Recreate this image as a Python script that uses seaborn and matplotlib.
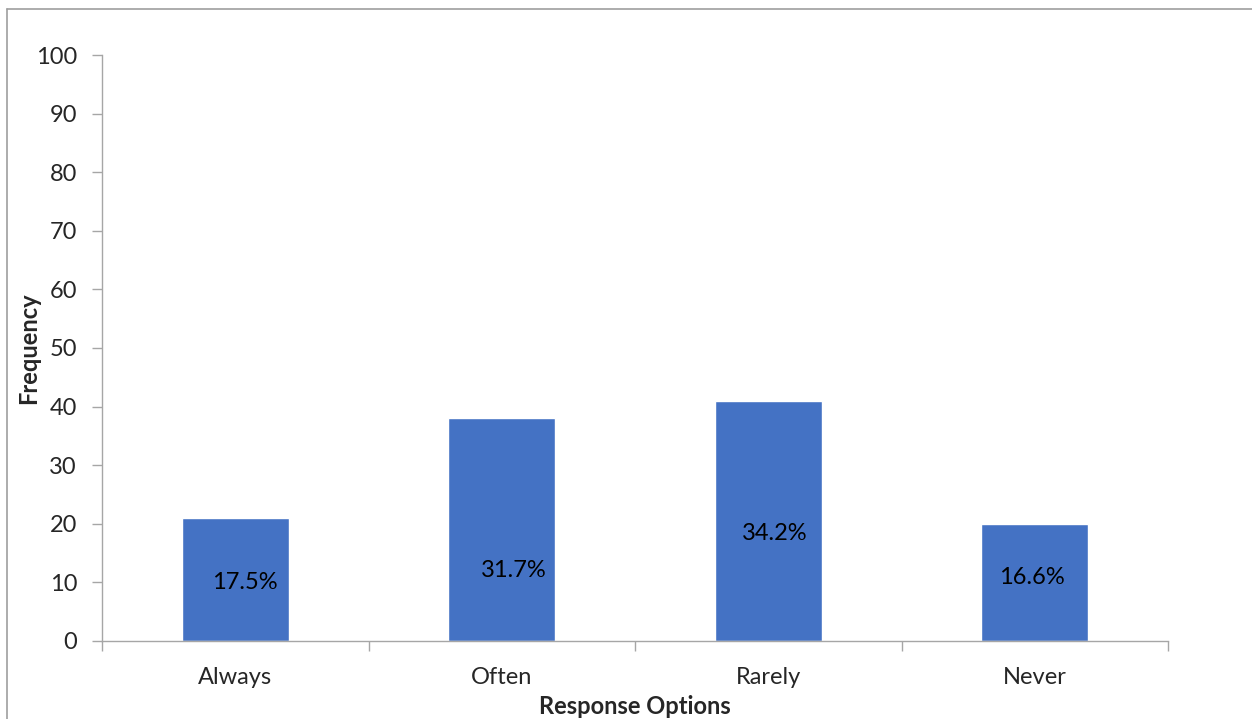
import matplotlib
matplotlib.use("Agg")
import matplotlib.pyplot as plt
from matplotlib.lines import Line2D
import seaborn as sns
import pandas as pd

# Survey responses
categories = ["Always", "Often", "Rarely", "Never"]
frequency = [21, 38, 41, 20]
percent_labels = ["17.5%", "31.7%", "34.2%", "16.6%"]
# where each percentage label sits inside its bar (x offset in category units, y in data units)
label_dx = [0.034, 0.045, 0.023, -0.011]
label_y = [9.9, 12.1, 18.4, 10.9]

sns.set_theme(style="white")
plt.rcParams["font.family"] = ["Lato", "DejaVu Sans"]

df = pd.DataFrame({"Response Options": categories, "Frequency": frequency})

fig = plt.figure(figsize=(12.52, 7.19), dpi=100)
ax = fig.add_axes([0.0815, 0.1085, 0.8514, 0.815])

sns.barplot(data=df, x="Response Options", y="Frequency", color="#4472C4",
            saturation=1, width=0.4, ax=ax)

for i, (lab, dx, y) in enumerate(zip(percent_labels, label_dx, label_y)):
    ax.text(i + dx, y, lab, ha="center", va="center", fontsize=17, color="black")

grey = "#A6A6A6"
ax.set_ylim(0, 100)
ax.set_xlim(-0.5, len(categories) - 0.5)
ax.set_yticks(range(0, 101, 10))
ax.tick_params(axis="y", which="major", length=7, width=1, color=grey,
               labelsize=17, pad=11, left=True, direction="out")
ax.tick_params(axis="x", length=0, labelsize=17, pad=19)
# boundary ticks between categories on the x axis
ax.set_xticks([i - 0.5 for i in range(len(categories) + 1)], minor=True)
ax.tick_params(axis="x", which="minor", length=7, width=1, color=grey,
               bottom=True, direction="out")

for side in ["top", "right"]:
    ax.spines[side].set_visible(False)
for side in ["left", "bottom"]:
    ax.spines[side].set_color(grey)
    ax.spines[side].set_linewidth(1)

ax.set_xlabel("Response Options", fontsize=17, fontweight="bold")
ax.set_ylabel("Frequency", fontsize=17, fontweight="bold")
ax.xaxis.set_label_coords(0.5, -0.092)
ax.yaxis.set_label_coords(-0.058, 0.5)

# chart area frame (top and left edges)
fig.add_artist(Line2D([7 / 1252, 1.0], [1 - 9 / 719, 1 - 9 / 719],
                      transform=fig.transFigure, color="#9E9E9E", lw=1.2))
fig.add_artist(Line2D([7 / 1252, 7 / 1252], [0.0, 1 - 9 / 719],
                      transform=fig.transFigure, color="#9E9E9E", lw=1.2))

fig.savefig("out.png", dpi=100, facecolor="white")
